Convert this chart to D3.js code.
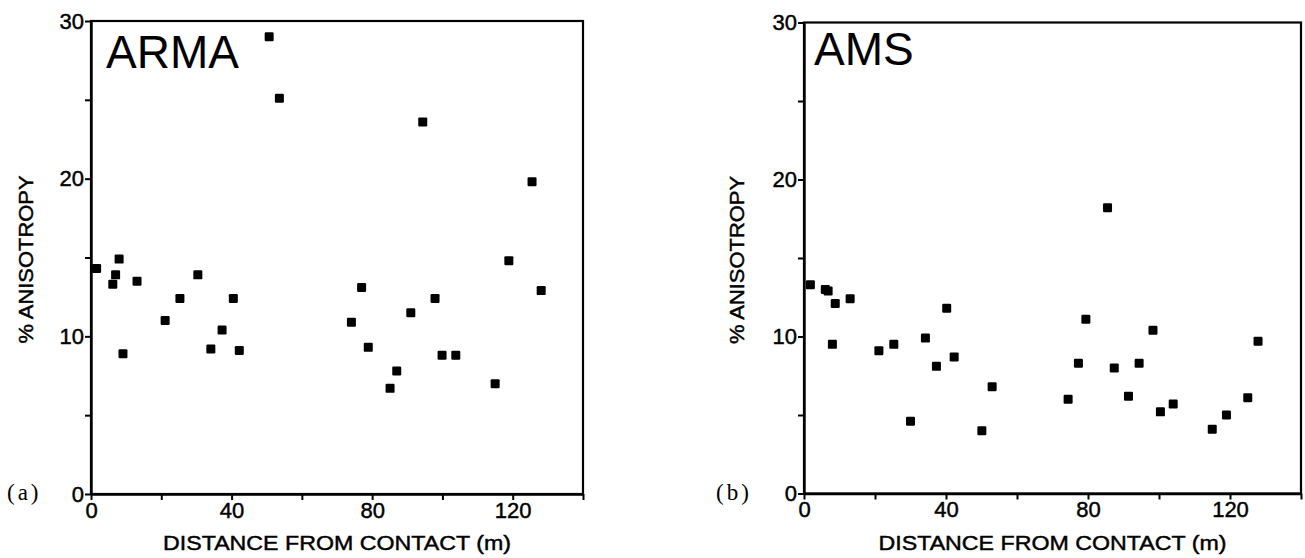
<!DOCTYPE html>
<meta charset="utf-8">
<head>
	<script src="https://cdn.jsdelivr.net/npm/d3@7"></script>
	<style>
		body { margin: 0; background: #fff; }
		text { font-family: "Liberation Sans", Arial, sans-serif; fill: #000; }
		.tick-label { font-size: 22px; stroke: #000; stroke-width: 0.45px; }
		.axis-title { font-size: 21px; stroke: #000; stroke-width: 0.45px; }
		.panel-title { font-size: 46px; }
		.panel-tag { font-family: "Liberation Serif", "Times New Roman", serif; font-size: 23px; letter-spacing: 3px; }
	</style>
</head>
<body>
	<svg id="svg"></svg>
</body>
<script>
	// distance from contact (m) and % anisotropy
	var armaDist  = [1.6, 6.2, 7.0, 8.0, 9.1, 13.1, 21.1, 25.3, 30.4, 34.1, 37.3, 40.5, 42.2, 50.7, 53.6,
	                 74.1, 77.0, 78.9, 85.1, 87.0, 91.0, 94.4, 97.9, 99.9, 103.8, 115.0, 118.9, 125.5, 128.1];
	var armaAniso = [14.3, 13.3, 13.9, 14.9, 8.9, 13.5, 11.0, 12.4, 13.9, 9.2, 10.4, 12.4, 9.1, 29.0, 25.1,
	                 10.9, 13.1, 9.3, 6.7, 7.8, 11.5, 23.6, 12.4, 8.8, 8.8, 7.0, 14.8, 19.8, 12.9];

	var amsDist  = [1.8, 6.0, 6.8, 8.0, 8.8, 13.0, 21.1, 25.3, 30.0, 34.2, 37.3, 40.2, 42.3, 50.1, 53.0,
	                74.4, 77.3, 79.4, 85.5, 87.4, 91.4, 94.4, 98.3, 100.4, 104.0, 115.0, 119.0, 125.0, 127.9];
	var amsAniso = [13.3, 13.0, 12.9, 9.5, 12.1, 12.4, 9.1, 9.5, 4.6, 9.9, 8.1, 11.8, 8.7, 4.0, 6.8,
	                6.0, 8.3, 11.1, 18.2, 8.0, 6.2, 8.3, 10.4, 5.2, 5.7, 4.1, 5.0, 6.1, 9.7];

	var xTicks = [0, 20, 40, 60, 80, 100, 120, 140];
	var xLabels = [0, 40, 80, 120];
	var yTicks = [0, 5, 10, 15, 20, 25, 30];
	var yLabels = [0, 10, 20, 30];

	var width = 1305, height = 558;

	var svg = d3.select("#svg")
		.attr("width", width)
		.attr("height", height);

	function panel(opts) {
		var x = d3.scaleLinear().domain([0, 140]).range([opts.left, opts.right]);
		var y = d3.scaleLinear().domain([0, 30]).range([opts.bottom, opts.top]);
		var g = svg.append("g");

		// frame
		g.append("rect")
			.attr("x", x(0)).attr("y", y(30))
			.attr("width", x(140) - x(0)).attr("height", y(0) - y(30))
			.attr("fill", "none").attr("stroke", "#000").attr("stroke-width", 2.2);

		// y axis
		var yAxis = d3.axisLeft(y).tickValues(yTicks).tickSize(6).tickSizeOuter(0)
			.tickFormat(d => yLabels.indexOf(d) >= 0 ? d : "");
		var ya = g.append("g").attr("transform", "translate(" + x(0) + ",0)").call(yAxis);
		ya.select(".domain").attr("stroke-width", 2.4);
		ya.selectAll(".tick line").attr("stroke-width", 2);
		ya.selectAll(".tick text").attr("class", "tick-label").attr("x", -7)
			.attr("font-size", null).attr("font-family", null);

		// x axis
		var xAxis = d3.axisBottom(x).tickValues(xTicks).tickSize(6).tickSizeOuter(0)
			.tickFormat(d => xLabels.indexOf(d) >= 0 ? d : "");
		var xa = g.append("g").attr("transform", "translate(0," + y(0) + ")").call(xAxis);
		xa.select(".domain").attr("stroke-width", 2.4);
		xa.selectAll(".tick line").attr("stroke-width", 2);
		xa.selectAll(".tick text").attr("class", "tick-label").attr("y", 8)
			.attr("font-size", null).attr("font-family", null);
		svg.selectAll(".tick text").attr("fill", "#000");

		// axis titles
		g.append("text").attr("class", "axis-title")
			.attr("x", (x(0) + x(140)) / 2).attr("y", opts.bottom + 56)
			.attr("text-anchor", "middle")
			.attr("textLength", 348).attr("lengthAdjust", "spacingAndGlyphs")
			.text("DISTANCE FROM CONTACT (m)");
		g.append("text").attr("class", "axis-title")
			.attr("transform", "translate(" + opts.yTitleX + "," + ((y(0) + y(30)) / 2 + 2) + ") rotate(-90)")
			.attr("text-anchor", "middle")
			.attr("textLength", 168).attr("lengthAdjust", "spacingAndGlyphs")
			.text("% ANISOTROPY");

		// titles
		g.append("text").attr("class", "panel-title")
			.attr("x", x(0) + opts.titleDx).attr("y", y(30) + opts.titleDy)
			.text(opts.title);
		g.append("text").attr("class", "panel-tag")
			.attr("x", opts.tagX).attr("y", y(0) + 6)
			.text(opts.tag);

		// points
		g.selectAll("rect.pt")
			.data(opts.dist.map((d, i) => ({ d: d, v: opts.aniso[i] })))
			.enter()
			.append("rect")
			.attr("class", "pt")
			.attr("x", d => x(d.d) - 4.5)
			.attr("y", d => y(d.v) - 4.5)
			.attr("width", 9).attr("height", 9)
			.attr("rx", 1.2)
			.attr("fill", "#000");
	}

	panel({ left: 91, right: 583, top: 21, bottom: 494, dist: armaDist, aniso: armaAniso,
		title: "ARMA", titleDx: 15, titleDy: 47, tag: "(a)", tagX: 7, yTitleX: 33 });
	panel({ left: 804, right: 1301, top: 22.5, bottom: 493.5, dist: amsDist, aniso: amsAniso,
		title: "AMS", titleDx: 10, titleDy: 42, tag: "(b)", tagX: 716, yTitleX: 744 });
</script>
